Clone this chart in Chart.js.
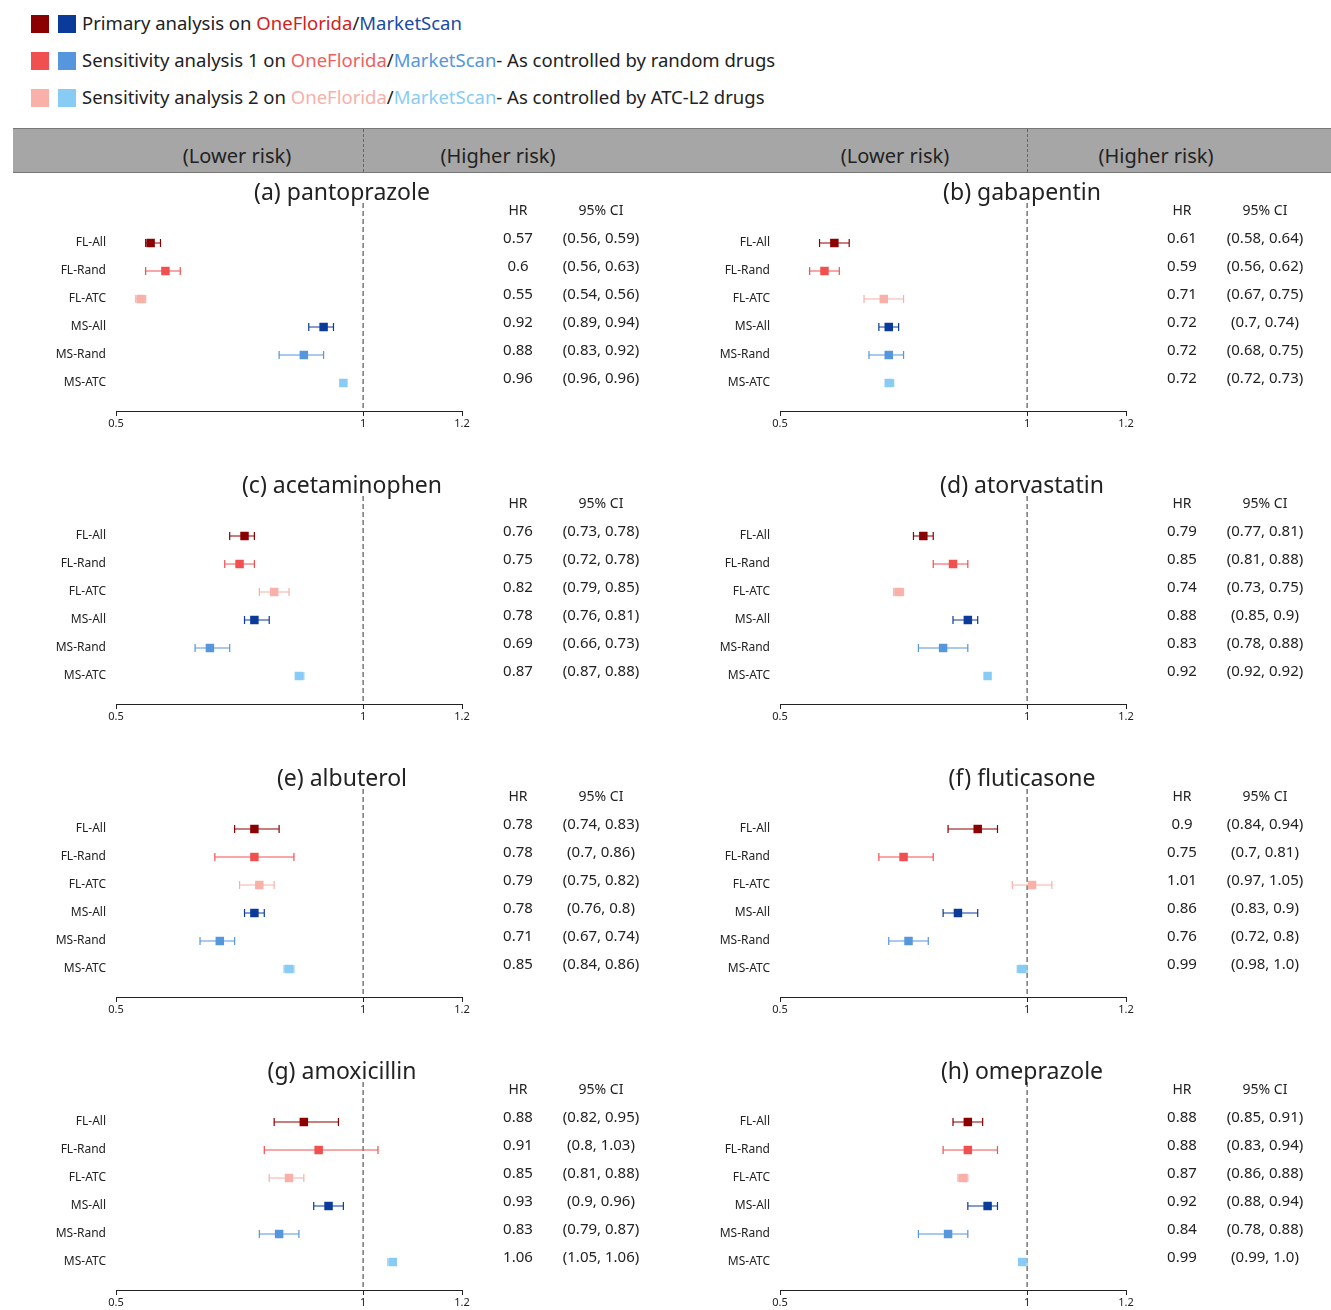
<!DOCTYPE html>
<html>
<head>
<meta charset="utf-8">
<script src="https://cdn.jsdelivr.net/npm/chart.js@4"></script>
<style>
body { margin:0; background:#fff; font-family:"Noto Sans", sans-serif; }
#page { position:relative; width:1331px; height:1310px; }
.leg { position:absolute; left:31px; height:20px; font-size:18.5px; color:#222; }
.sq { position:absolute; width:18px; height:18px; top:1px; }
.leg span.t { position:absolute; left:51px; top:-4px; white-space:nowrap; }
#band { position:absolute; left:13px; top:128px; width:1318px; height:43px; background:#a6a6a6; border-top:1px solid #777; border-bottom:1px solid #777; }
.bt { position:absolute; top:13px; font-size:20px; color:#222; transform:translateX(-50%); white-space:nowrap; }
.bd { position:absolute; top:0; height:43px; border-left:1.5px dashed #666; }
.panel { position:absolute; width:665px; height:270px; }
</style>
</head>
<body>
<div id="page">
  <div class="leg" style="top:14px"><div class="sq" style="left:0;background:#8b0000"></div><div class="sq" style="left:27px;background:#0a3a9a"></div>
    <span class="t">Primary analysis on <span style="color:#d42020">OneFlorida</span>/<span style="color:#1a4aa8">MarketScan</span></span></div>
  <div class="leg" style="top:51px"><div class="sq" style="left:0;background:#f05050"></div><div class="sq" style="left:27px;background:#5596dd"></div>
    <span class="t">Sensitivity analysis 1 on <span style="color:#f06060">OneFlorida</span>/<span style="color:#5596dd">MarketScan</span>- As controlled by random drugs</span></div>
  <div class="leg" style="top:88px"><div class="sq" style="left:0;background:#f8b0a8"></div><div class="sq" style="left:27px;background:#88ccf5"></div>
    <span class="t">Sensitivity analysis 2 on <span style="color:#f8b0a8">OneFlorida</span>/<span style="color:#88ccf5">MarketScan</span>- As controlled by ATC-L2 drugs</span></div>
  <div id="band">
    <div class="bt" style="left:224px">(Lower risk)</div><div class="bd" style="left:350px"></div><div class="bt" style="left:485px">(Higher risk)</div>
    <div class="bt" style="left:882px">(Lower risk)</div><div class="bd" style="left:1014px"></div><div class="bt" style="left:1143px">(Higher risk)</div>
  </div>
</div>
<script>
const rowLabels = ['FL-All', 'FL-Rand', 'FL-ATC', 'MS-All', 'MS-Rand', 'MS-ATC'];
const rowColors = ['#8b0000', '#f05050', '#f8b0a8', '#0a3a9a', '#5596dd', '#88ccf5'];
const titles = ['(a) pantoprazole', '(b) gabapentin', '(c) acetaminophen', '(d) atorvastatin',
                '(e) albuterol', '(f) fluticasone', '(g) amoxicillin', '(h) omeprazole'];
const xTicks = [0.5, 1, 1.2];

const hrA = [0.57, 0.6, 0.55, 0.92, 0.88, 0.96], loA = [0.56, 0.56, 0.54, 0.89, 0.83, 0.96], hiA = [0.59, 0.63, 0.56, 0.94, 0.92, 0.96];
const hrB = [0.61, 0.59, 0.71, 0.72, 0.72, 0.72], loB = [0.58, 0.56, 0.67, 0.7, 0.68, 0.72], hiB = [0.64, 0.62, 0.75, 0.74, 0.75, 0.73];
const hrC = [0.76, 0.75, 0.82, 0.78, 0.69, 0.87], loC = [0.73, 0.72, 0.79, 0.76, 0.66, 0.87], hiC = [0.78, 0.78, 0.85, 0.81, 0.73, 0.88];
const hrD = [0.79, 0.85, 0.74, 0.88, 0.83, 0.92], loD = [0.77, 0.81, 0.73, 0.85, 0.78, 0.92], hiD = [0.81, 0.88, 0.75, 0.9, 0.88, 0.92];
const hrE = [0.78, 0.78, 0.79, 0.78, 0.71, 0.85], loE = [0.74, 0.7, 0.75, 0.76, 0.67, 0.84], hiE = [0.83, 0.86, 0.82, 0.8, 0.74, 0.86];
const hrF = [0.9, 0.75, 1.01, 0.86, 0.76, 0.99], loF = [0.84, 0.7, 0.97, 0.83, 0.72, 0.98], hiF = [0.94, 0.81, 1.05, 0.9, 0.8, 1.0];
const hrG = [0.88, 0.91, 0.85, 0.93, 0.83, 1.06], loG = [0.82, 0.8, 0.81, 0.9, 0.79, 1.05], hiG = [0.95, 1.03, 0.88, 0.96, 0.87, 1.06];
const hrH = [0.88, 0.88, 0.87, 0.92, 0.84, 0.99], loH = [0.85, 0.83, 0.86, 0.88, 0.78, 0.99], hiH = [0.91, 0.94, 0.88, 0.94, 0.88, 1.0];

const panels = [[hrA, loA, hiA], [hrB, loB, hiB], [hrC, loC, hiC], [hrD, loD, hiD],
                [hrE, loE, hiE], [hrF, loF, hiF], [hrG, loG, hiG], [hrH, loH, hiH]];

function fmt(n) { return Number.isInteger(n) ? n.toFixed(1) : String(n); }

const forestPlugin = {
    id: 'forest',
    beforeDatasetsDraw(chart, args, opts) {
        const { ctx, scales: { x, y }, chartArea } = chart;
        ctx.save();
        // dashed reference line at HR = 1
        ctx.strokeStyle = '#777';
        ctx.lineWidth = 1.5;
        ctx.setLineDash([5, 3]);
        ctx.beginPath();
        ctx.moveTo(x.getPixelForValue(1), chartArea.top - 12);
        ctx.lineTo(x.getPixelForValue(1), chartArea.bottom);
        ctx.stroke();
        ctx.setLineDash([]);
        // CI whiskers
        ctx.lineWidth = 1.2;
        opts.lo.forEach((lo, i) => {
            const hi = opts.hi[i];
            const py = y.getPixelForValue(i);
            const x1 = x.getPixelForValue(lo), x2 = x.getPixelForValue(hi);
            ctx.strokeStyle = rowColors[i];
            ctx.beginPath();
            ctx.moveTo(x1, py); ctx.lineTo(x2, py);
            ctx.moveTo(x1, py - 4); ctx.lineTo(x1, py + 4);
            ctx.moveTo(x2, py - 4); ctx.lineTo(x2, py + 4);
            ctx.stroke();
        });
        ctx.restore();
    },
    afterDraw(chart, args, opts) {
        const { ctx, scales: { y }, chartArea } = chart;
        ctx.save();
        ctx.fillStyle = '#222';
        ctx.textAlign = 'center';
        ctx.textBaseline = 'middle';
        ctx.font = '23px "Noto Sans"';
        ctx.fillText(opts.title, chartArea.left + opts.titleX, chartArea.top - 22);
        ctx.font = '14px "Noto Sans"';
        ctx.fillText('HR', chartArea.right + 56, chartArea.top - 4);
        ctx.fillText('95% CI', chartArea.right + 139, chartArea.top - 4);
        ctx.font = '15px "Noto Sans"';
        opts.hr.forEach((h, i) => {
            const py = y.getPixelForValue(i) - 4;
            ctx.fillText(String(h), chartArea.right + 56, py);
            ctx.fillText('(' + fmt(opts.lo[i]) + ', ' + fmt(opts.hi[i]) + ')', chartArea.right + 139, py);
        });
        ctx.restore();
    }
};

panels.forEach((p, k) => {
    const [hr, lo, hi] = p;
    const div = document.createElement('div');
    div.className = 'panel';
    div.style.left = (k % 2 ? 664 : 0) + 'px';
    div.style.top = (175 + Math.floor(k / 2) * 293) + 'px';
    const canvas = document.createElement('canvas');
    div.appendChild(canvas);
    document.getElementById('page').appendChild(div);

    new Chart(canvas.getContext('2d'), {
        type: 'scatter',
        data: {
            datasets: [{
                data: hr.map((v, i) => ({ x: v, y: i })),
                pointStyle: 'rect',
                pointRadius: 6,
                pointHoverRadius: 6,
                backgroundColor: rowColors,
                borderColor: rowColors,
                borderWidth: 0
            }]
        },
        options: {
            responsive: true,
            maintainAspectRatio: false,
            animation: false,
            layout: { padding: { top: 40, right: 203, left: 0, bottom: 0 } },
            plugins: {
                legend: { display: false },
                tooltip: { enabled: false },
                forest: { title: titles[k], titleX: k % 2 ? 242 : 226, hr: hr, lo: lo, hi: hi }
            },
            scales: {
                x: {
                    type: 'linear', min: 0.5, max: 1.2,
                    afterBuildTicks: s => { s.ticks = xTicks.map(v => ({ value: v })); },
                    afterFit: s => { s.height = 34; },
                    grid: { display: true, drawOnChartArea: false, drawTicks: true, tickLength: 5, color: '#222' },
                    border: { display: true, color: '#222' },
                    ticks: { color: '#222', font: { size: 11, family: 'Noto Sans' }, padding: 1, maxRotation: 0,
                             callback: v => String(v) }
                },
                y: {
                    type: 'linear', min: -1, max: 6, reverse: true,
                    afterBuildTicks: s => { s.ticks = rowLabels.map((l, i) => ({ value: i })); },
                    afterFit: s => { s.width = 116; },
                    grid: { display: false },
                    border: { display: false },
                    ticks: {
                        color: '#222', font: { size: 12, family: 'Noto Sans' }, padding: 2,
                        callback: v => rowLabels[v] || ''
                    }
                }
            }
        },
        plugins: [forestPlugin]
    });
});
</script>
</body>
</html>
